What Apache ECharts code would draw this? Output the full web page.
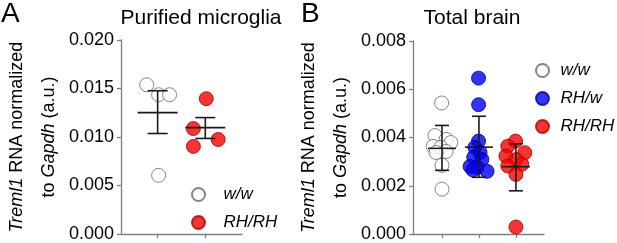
<!DOCTYPE html>
<html><head><meta charset="utf-8">
<script src="https://cdn.jsdelivr.net/npm/echarts@6/dist/echarts.min.js"></script>
<style>html,body{margin:0;padding:0;background:#fff}#c{width:617px;height:243px}</style>
</head><body><div id="c"></div>
<script>
// ---- Panel A: Purified microglia ----
const groupsA = ['w/w', 'RH/RH'];
const aWwX = [0.77, 1.02, 1.25, 1.02];
const aWwY = [0.01538, 0.01436, 0.01436, 0.00605];
const aRhX = [2.02, 1.75, 2.27, 1.75];
const aRhY = [0.01395, 0.01087, 0.00974, 0.00903];
const aMean = [0.01251, 0.01097];
const aLow = [0.01036, 0.00985];
const aHigh = [0.01477, 0.01200];
const aTicks = [0, 0.005, 0.010, 0.015, 0.020];

// ---- Panel B: Total brain ----
const groupsB = ['w/w', 'RH/w', 'RH/RH'];
const bWwX = [0.99, 0.81, 1.11, 1.24, 0.76, 0.97, 1.11, 0.84, 1.00, 1.00];
const bWwY = [0.00543, 0.00408, 0.00392, 0.00379, 0.00363, 0.00359, 0.00342, 0.00338, 0.00285, 0.00186];
const bRwX = [1.99, 1.99, 1.99, 1.89, 2.03, 1.86, 2.08, 1.76, 1.95, 2.22, 1.84];
const bRwY = [0.00646, 0.00536, 0.00385, 0.00359, 0.00338, 0.00318, 0.00309, 0.00280, 0.00276, 0.00260, 0.00265];
const bRrX = [2.99, 2.78, 3.24, 2.73, 3.00, 3.16, 2.78, 3.00, 3.00];
const bRrY = [0.00385, 0.00364, 0.00337, 0.00323, 0.00309, 0.00289, 0.00282, 0.00247, 0.00029];
const bMean = [0.00355, 0.00360, 0.00279];
const bLow = [0.00264, 0.00235, 0.00179];
const bHigh = [0.00450, 0.00488, 0.00374];
const bTicks = [0, 0.002, 0.004, 0.006, 0.008];

const FONT = '"Liberation Sans", Arial, sans-serif';
const AXC = '#7f7f7f';
const zip = (xs, ys) => xs.map((x, i) => [x, ys[i]]);

const styleWw = { color: '#ffffff', borderColor: '#666666', borderWidth: 1 };
const styleRw = { color: '#0000f5', borderColor: '#00008a', borderWidth: 1 };
const styleRr = { color: '#f50000', borderColor: '#a00000', borderWidth: 1 };

function errSeries(idx, mean, low, high, halfMean, halfCap) {
  const data = mean.map((m, i) => [i + 1, m, low[i], high[i]]);
  return {
    type: 'custom', xAxisIndex: idx, yAxisIndex: idx, z: 5, silent: true,
    data: data,
    renderItem: function (params, api) {
      const x = api.value(0);
      const pm = api.coord([x, api.value(1)]);
      const pl = api.coord([x, api.value(2)]);
      const ph = api.coord([x, api.value(3)]);
      const st = { stroke: '#1a1a1a', lineWidth: 1.6 };
      return { type: 'group', children: [
        { type: 'line', shape: { x1: pm[0] - halfMean, y1: pm[1], x2: pm[0] + halfMean, y2: pm[1] }, style: st },
        { type: 'line', shape: { x1: pl[0], y1: pl[1], x2: ph[0], y2: ph[1] }, style: st },
        { type: 'line', shape: { x1: ph[0] - halfCap, y1: ph[1], x2: ph[0] + halfCap, y2: ph[1] }, style: st },
        { type: 'line', shape: { x1: pl[0] - halfCap, y1: pl[1], x2: pl[0] + halfCap, y2: pl[1] }, style: st }
      ]};
    }
  };
}

function xAxisDef(idx, min, max, groups) {
  return {
    type: 'value', gridIndex: idx, min: min, max: max,
    axisLine: { show: true, lineStyle: { color: AXC, width: 1.3 } },
    axisTick: { show: true, length: 4, lineStyle: { color: AXC, width: 1.3 }, customValues: groups.map((g, i) => i + 1) },
    axisLabel: { show: false },
    splitLine: { show: false }
  };
}
function yAxisDef(idx, max, interval) {
  return {
    type: 'value', gridIndex: idx, min: 0, max: max, interval: interval,
    axisLine: { show: true, lineStyle: { color: AXC, width: 1.3 } },
    axisTick: { show: true, length: 4, lineStyle: { color: AXC, width: 1.3 } },
    axisLabel: { color: '#000', fontSize: 18, fontFamily: FONT, margin: 7, formatter: v => v.toFixed(3) },
    splitLine: { show: false },
    name: '{i|Treml1} RNA normalized\nto {i|Gapdh} (a.u.)',
    nameLocation: 'middle', nameRotate: 90, nameGap: 51,
    nameTextStyle: { color: '#000', fontSize: 18, fontFamily: FONT, lineHeight: 32, align: 'center',
      rich: { i: { fontStyle: 'italic', fontSize: 18, fontFamily: FONT, color: '#000', lineHeight: 32 } } }
  };
}

const chart = echarts.init(document.getElementById('c'), null, { renderer: 'canvas' });
chart.setOption({
  animation: false,
  backgroundColor: '#fff',
  grid: [
    { left: 110, top: 40, width: 132, height: 195 },
    { left: 413, top: 41, width: 131, height: 194 }
  ],
  xAxis: [xAxisDef(0, 0.23, 2.77, groupsA), xAxisDef(1, 0.216, 3.76, groupsB)],
  yAxis: [yAxisDef(0, aTicks[aTicks.length - 1], aTicks[1]), yAxisDef(1, bTicks[bTicks.length - 1], bTicks[1])],
  legend: [
    { data: ['w/w', 'RH/RH'], orient: 'vertical', left: 191, top: 186, padding: 0, itemGap: 11,
      itemWidth: 40, itemHeight: 13, icon: 'circle', selectedMode: false,
      textStyle: { fontSize: 17, fontStyle: 'italic', fontFamily: FONT, color: '#000' } },
    { data: ['w/w', 'RH/w', 'RH/RH'], orient: 'vertical', left: 535, top: 62, padding: 0, itemGap: 11,
      itemWidth: 26, itemHeight: 13, icon: 'circle', selectedMode: false,
      textStyle: { fontSize: 17, fontStyle: 'italic', fontFamily: FONT, color: '#000' } }
  ],
  graphic: [
    { type: 'text', left: 1, top: 0, style: { text: 'A', font: '28px ' + FONT, fill: '#000' } },
    { type: 'text', left: 301, top: 0, style: { text: 'B', font: '28px ' + FONT, fill: '#000' } },
    { type: 'text', x: 201, y: 18, style: { text: 'Purified microglia', font: '21px ' + FONT, fill: '#000', textAlign: 'center', textVerticalAlign: 'middle' } },
    { type: 'text', x: 472, y: 18, style: { text: 'Total brain', font: '21px ' + FONT, fill: '#000', textAlign: 'center', textVerticalAlign: 'middle' } }
  ],
  series: [
    { name: 'w/w', type: 'scatter', xAxisIndex: 0, yAxisIndex: 0, symbolSize: 14, itemStyle: styleWw, data: zip(aWwX, aWwY) },
    { name: 'RH/RH', type: 'scatter', xAxisIndex: 0, yAxisIndex: 0, symbolSize: 14, itemStyle: styleRr, data: zip(aRhX, aRhY) },
    errSeries(0, aMean, aLow, aHigh, 20, 10),
    { name: 'w/w', type: 'scatter', xAxisIndex: 1, yAxisIndex: 1, symbolSize: 14, itemStyle: styleWw, data: zip(bWwX, bWwY) },
    { name: 'RH/w', type: 'scatter', xAxisIndex: 1, yAxisIndex: 1, symbolSize: 14, itemStyle: styleRw, data: zip(bRwX, bRwY) },
    { name: 'RH/RH', type: 'scatter', xAxisIndex: 1, yAxisIndex: 1, symbolSize: 14, itemStyle: styleRr, data: zip(bRrX, bRrY) },
    errSeries(1, bMean, bLow, bHigh, 14, 7)
  ]
});
</script></body></html>
